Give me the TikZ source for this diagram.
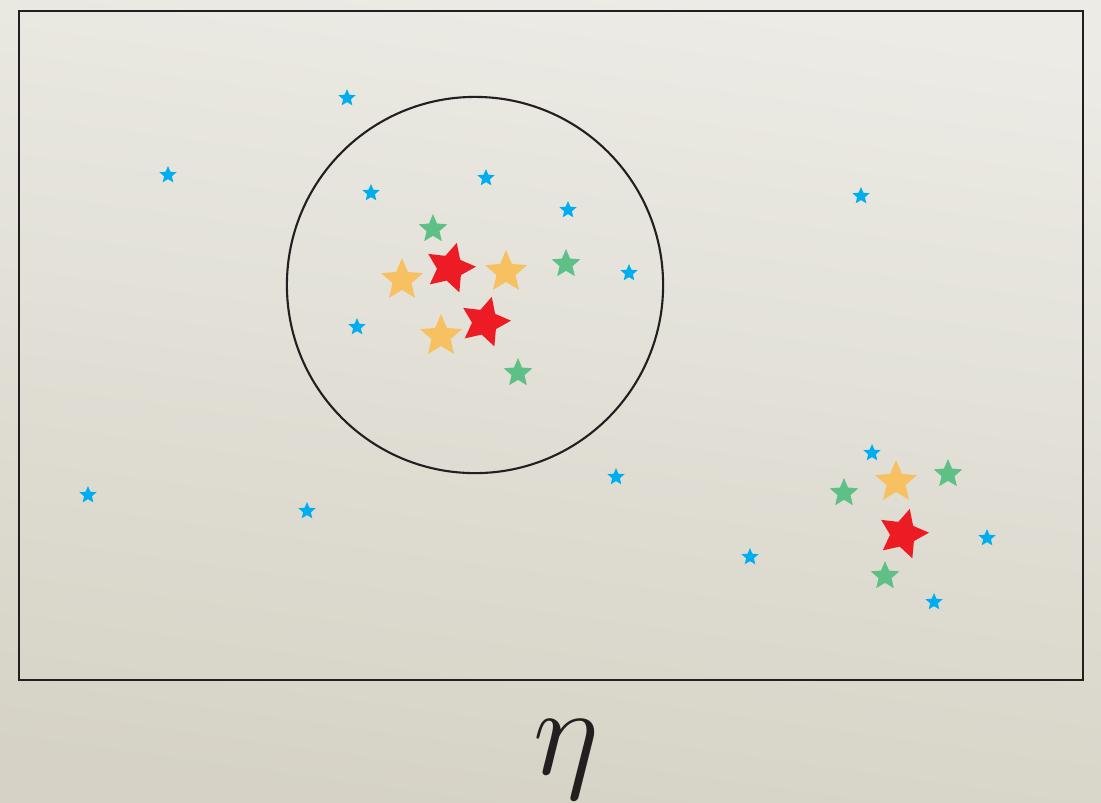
\documentclass[tikz,border=0pt]{standalone}
\usepackage{amsmath}
\usepackage{tikz}
\usetikzlibrary{shapes.geometric}

\definecolor{bgtop}{RGB}{236,235,229}
\definecolor{bgbot}{RGB}{214,211,198}
\definecolor{starblue}{RGB}{0,174,239}
\definecolor{stargreen}{RGB}{94,192,135}
\definecolor{starorange}{RGB}{247,193,98}
\definecolor{starred}{RGB}{237,28,36}
\definecolor{inkline}{RGB}{35,31,32}

\begin{document}
\begin{tikzpicture}[
			x=0.01cm, y=-0.01cm,
			anystar/.style={star, star points=5, star point ratio=2.2,
				inner sep=0pt, draw=none},
			bstar/.style={anystar, fill=starblue, minimum size=0.18cm},
			gstar/.style={anystar, fill=stargreen, minimum size=0.30cm},
			ostar/.style={anystar, fill=starorange, minimum size=0.44cm},
			rstar/.style={anystar, fill=starred, minimum size=0.52cm,
				star point ratio=2.0, rotate=-15},
			frame/.style={draw=inkline, line width=0.7pt},
			]
			% Background
			\useasboundingbox (0,0) rectangle (1101,802);
			\shade[top color=bgtop, bottom color=bgbot, shading angle=-8] (0,0) rectangle (1101,802);

			% Frame and circle
			\draw[frame] (19,11) rectangle (1083,680);
			\node[draw=inkline, line width=0.6pt, circle, minimum size=3.76cm, inner sep=0pt] (ring) at (475,285) {};

			% Blue stars
			\node[bstar] (b1) at (347,98) {};
			\node[bstar] (b2) at (168,175) {};
			\node[bstar] (b3) at (371,193) {};
			\node[bstar] (b4) at (486,178) {};
			\node[bstar] (b5) at (568,210) {};
			\node[bstar] (b6) at (629,273) {};
			\node[bstar] (b7) at (357,327) {};
			\node[bstar] (b8) at (88,495) {};
			\node[bstar] (b9) at (307,511) {};
			\node[bstar] (b10) at (616,477) {};
			\node[bstar] (b11) at (861,196) {};
			\node[bstar] (b12) at (872,453) {};
			\node[bstar] (b13) at (750,557) {};
			\node[bstar] (b14) at (987,538) {};
			\node[bstar] (b15) at (934,602) {};

			% Green stars
			\node[gstar] (g1) at (433,229) {};
			\node[gstar] (g2) at (566,264) {};
			\node[gstar] (g3) at (518,373) {};
			\node[gstar] (g4) at (844,493) {};
			\node[gstar] (g5) at (948,474) {};
			\node[gstar] (g6) at (885,576) {};

			% Orange stars
			\node[ostar] (o1) at (402,280) {};
			\node[ostar] (o2) at (506,272) {};
			\node[ostar] (o3) at (441,336) {};
			\node[ostar] (o4) at (896,482) {};

			% Red stars
			\node[rstar] (r1) at (450,268) {};
			\node[rstar] (r2) at (485,322) {};
			\node[rstar] (r3) at (903,534) {};

			% Label
			\node[anchor=base, inner sep=0pt, text=inkline, scale=1.447, transform shape]
			(eta) at (566,774) {\Huge$\eta$};
		\end{tikzpicture}
\end{document}
